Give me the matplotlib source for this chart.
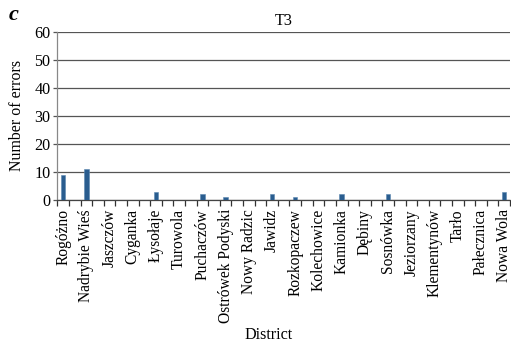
import matplotlib
matplotlib.use("Agg")
import matplotlib.pyplot as plt
from matplotlib.ticker import FixedLocator

# Labelled districts (every second category slot carries a name)
districts = ["Rogóżno", "Nadrybie Wieś", "Jaszczów", "Cyganka", "Łysołaje",
             "Turowola", "Puchaczów", "Ostrówek Podyski", "Nowy Radzic", "Jawidz",
             "Rozkopaczew", "Kolechowice", "Kamionka", "Dębiny", "Sosnówka",
             "Jeziorzany", "Klementynów", "Tarło", "Pałecznica", "Nowa Wola"]
errors = [9, 11, 0, 0, 3, 0, 2, 1, 0, 2, 1, 0, 2, 0, 2, 0, 0, 0, 0, 3]
n_slots = 39
y_ticks = [0, 10, 20, 30, 40, 50, 60]

plt.rcParams["font.family"] = ["Liberation Serif", "DejaVu Serif"]
fs = 11.6

fig = plt.figure(figsize=(5.11, 3.43), dpi=100)
ax = fig.add_axes([0.1121, 0.4169, 0.886, 0.4907])

pos = [2 * i for i in range(len(districts))]
ax.bar(pos, errors, width=0.38, color="#2a5d8f", edgecolor="#5a86b0",
       linewidth=0.4, zorder=3)

ax.set_xlim(-0.5, n_slots - 0.5)
ax.set_ylim(0, 60)
ax.yaxis.set_major_locator(FixedLocator(y_ticks))
ax.grid(axis="y", color="#555555", linewidth=0.9, zorder=0)

ax.set_xticks(pos)
ax.set_xticklabels(districts, rotation=90, fontsize=11.2)
ax.xaxis.set_minor_locator(FixedLocator([i - 0.5 for i in range(n_slots + 1)]))
ax.tick_params(axis="x", which="major", length=0, pad=6.5)
ax.tick_params(axis="x", which="minor", length=4, width=0.9, color="#333333",
               direction="out")
ax.tick_params(axis="y", length=3, width=0.9, color="#555555", labelsize=fs,
               pad=2)

for side in ("top", "right"):
    ax.spines[side].set_visible(False)
ax.spines["left"].set_color("#888888")
ax.spines["bottom"].set_color("#444444")
ax.spines["left"].set_linewidth(0.9)
ax.spines["bottom"].set_linewidth(0.9)

ax.set_ylabel("Number of errors", fontsize=11.4)
ax.yaxis.set_label_coords(-0.071, 0.5)
ax.set_title("T3", fontsize=fs, pad=5)

fig.text(0.526, 0.012, "District", fontsize=fs, ha="center", va="baseline")
fig.text(0.016, 0.985, "c", fontsize=16, fontweight="bold", fontstyle="italic",
         va="top", ha="left")

fig.savefig("out.png", dpi=100)
